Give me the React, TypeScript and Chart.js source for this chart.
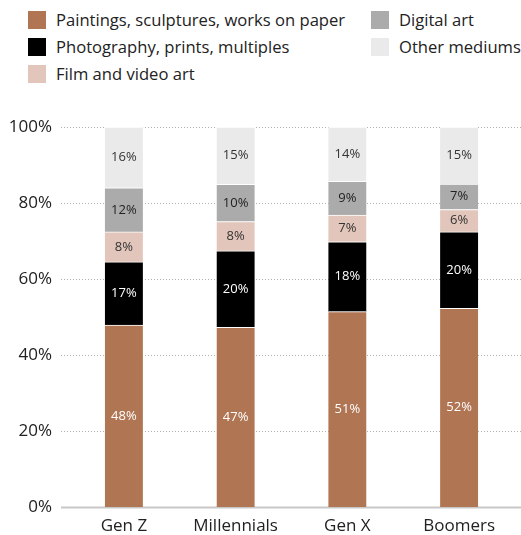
import React, { useEffect, useRef } from "react";
import { Chart, registerables } from "chart.js";

Chart.register(...registerables);

const categories = ["Gen Z", "Millennials", "Gen X", "Boomers"];
const seriesNames = [
  "Paintings, sculptures, works on paper",
  "Photography, prints, multiples",
  "Film and video art",
  "Digital art",
  "Other mediums",
];
const paintings = [47.9, 47.3, 51.4, 52.3];
const photography = [16.6, 20.1, 18.4, 20.1];
const film = [7.9, 7.7, 7.0, 5.9];
const digital = [11.6, 9.8, 8.9, 6.7];
const other = [16.0, 15.1, 14.3, 15.0];
const yTickValues = [0, 20, 40, 60, 80, 100];

const seriesColors = ["#b07553", "#000000", "#e2c6bb", "#ababab", "#eaeaea"];
const labelColors = ["#ffffff", "#ffffff", "#333333", "#222222", "#333333"];
const FONT = "'Open Sans', 'Noto Sans', sans-serif";

const gridPlugin = {
  id: "customGrid",
  beforeDatasetsDraw(chart: any) {
    const { ctx } = chart;
    const y = chart.scales.y;
    const left = 61;
    const right = chart.width;
    ctx.save();
    yTickValues.forEach((v) => {
      const py = Math.round(y.getPixelForValue(v)) + 0.5;
      ctx.beginPath();
      if (v === 0) {
        ctx.setLineDash([]);
        ctx.strokeStyle = "#c8c8c8";
        ctx.lineWidth = 2;
      } else {
        ctx.setLineDash([1, 2]);
        ctx.strokeStyle = "#b0b0b0";
        ctx.lineWidth = 1;
      }
      ctx.moveTo(left, py);
      ctx.lineTo(right, py);
      ctx.stroke();
    });
    ctx.restore();
  },
};

const labelPlugin = {
  id: "segLabels",
  afterDatasetsDraw(chart: any) {
    const { ctx } = chart;
    ctx.save();
    ctx.font = `13px ${FONT}`;
    ctx.textAlign = "center";
    ctx.textBaseline = "middle";
    chart.data.datasets.forEach((ds: any, di: number) => {
      const meta = chart.getDatasetMeta(di);
      meta.data.forEach((el: any, i: number) => {
        const { x, y, base } = el.getProps(["x", "y", "base"], true);
        ctx.fillStyle = labelColors[di];
        ctx.fillText(Math.round(ds.data[i]) + "%", x, (y + base) / 2);
      });
    });
    ctx.restore();
  },
};

export default function App() {
  const ref = useRef<HTMLCanvasElement>(null);

  useEffect(() => {
    const seriesData = [paintings, photography, film, digital, other];
    const chart = new Chart(ref.current as HTMLCanvasElement, {
      type: "bar",
      data: {
        labels: categories,
        datasets: seriesNames.map((name, i) => ({
          label: name,
          data: seriesData[i],
          backgroundColor: seriesColors[i],
          borderColor: "#ffffff",
          borderWidth: { top: 1, left: 0, right: 0, bottom: 0 },
          borderSkipped: false,
          barThickness: 38,
        })),
      },
      options: {
        responsive: false,
        animation: false,
        devicePixelRatio: 1,
        layout: { padding: { top: 127, right: 6, left: 0, bottom: 0 } },
        plugins: { legend: { display: false }, tooltip: { enabled: false } },
        scales: {
          x: {
            stacked: true,
            grid: { display: false, drawTicks: false },
            border: { display: false },
            ticks: { color: "#222", font: { family: FONT, size: 17 }, padding: 9 },
            afterFit: (s: any) => {
              s.height = 28;
            },
          },
          y: {
            stacked: true,
            min: 0,
            max: 100,
            grid: { display: false, drawTicks: false },
            border: { display: false },
            afterBuildTicks: (s: any) => {
              s.ticks = yTickValues.map((v) => ({ value: v }));
            },
            ticks: {
              color: "#222",
              font: { family: FONT, size: 17 },
              padding: 16,
              callback: (v: any) => v + "%",
            },
            afterFit: (s: any) => {
              s.width = 68;
            },
          },
        },
      },
      plugins: [gridPlugin, labelPlugin],
    });
    return () => chart.destroy();
  }, []);

  const legendItem = (i: number, left: number, top: number) => (
    <div
      key={i}
      style={{
        position: "absolute",
        left,
        top,
        height: 27,
        display: "flex",
        alignItems: "center",
        whiteSpace: "nowrap",
      }}
    >
      <span
        style={{
          display: "inline-block",
          width: 18,
          height: 18,
          background: seriesColors[i],
          marginRight: 10,
        }}
      />
      <span style={{ fontFamily: FONT, fontSize: 16.6, color: "#222" }}>{seriesNames[i]}</span>
    </div>
  );

  return (
    <div style={{ position: "absolute", left: 0, top: 0, width: 521, height: 535, background: "#fff" }}>
      {legendItem(0, 28, 6)}
      {legendItem(1, 28, 33)}
      {legendItem(2, 28, 60)}
      {legendItem(3, 371, 6)}
      {legendItem(4, 371, 33)}
      <canvas ref={ref} width={521} height={535} style={{ position: "absolute", left: 0, top: 0 }} />
    </div>
  );
}
